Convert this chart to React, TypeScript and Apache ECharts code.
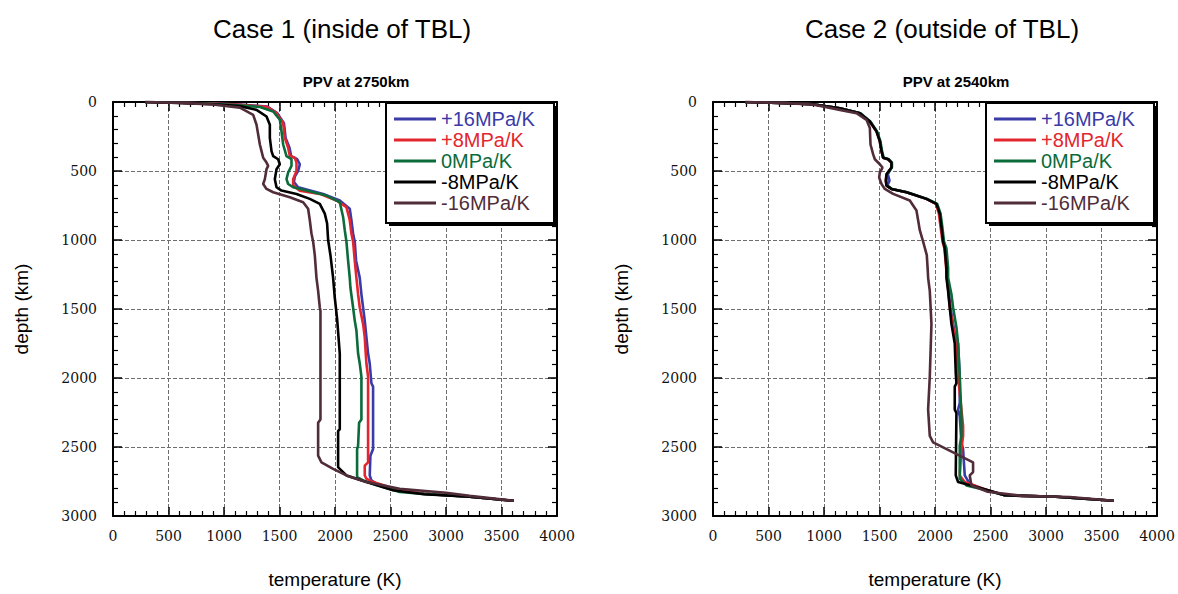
import React, { useEffect, useRef } from "react";
import * as echarts from "echarts";

// ---- data: [temperature (K), depth (km)] ----
const seriesNames = ["+16MPa/K", "+8MPa/K", "0MPa/K", "-8MPa/K", "-16MPa/K"];
const seriesColors = ["#3a3aa8", "#e3262e", "#0b6b3a", "#000000", "#512c39"];

const xTickLabels = ["0", "500", "1000", "1500", "2000", "2500", "3000", "3500", "4000"];
const yTickLabels = ["0", "500", "1000", "1500", "2000", "2500", "3000"];

const panelTitles = ["Case 1 (inside of TBL)", "Case 2 (outside of TBL)"];
const panelSubtitles = ["PPV at 2750km", "PPV at 2540km"];

// Case 1
const case1Plus16: [number, number][] = [
  [290, 0], [600, 5], [900, 12], [1150, 19], [1390, 33], [1480, 81], [1540, 153], [1555, 260],
  [1590, 332], [1605, 392], [1660, 415], [1683, 451], [1668, 499], [1638, 540], [1630, 580],
  [1668, 618], [1893, 666], [2043, 714], [2133, 774], [2148, 857], [2163, 953], [2178, 1012],
  [2190, 1150], [2223, 1274], [2238, 1393], [2253, 1489], [2268, 1584], [2283, 1704], [2298, 1823],
  [2313, 1895], [2328, 2038], [2343, 2062], [2343, 2515], [2319, 2563], [2313, 2706], [2328, 2742],
  [2373, 2766], [2583, 2814], [2800, 2838], [3213, 2860], [3609, 2890],
];
const case1Plus8: [number, number][] = [
  [290, 0], [600, 5], [900, 12], [1143, 20], [1383, 34], [1473, 81], [1533, 153], [1548, 260],
  [1578, 332], [1593, 392], [1638, 404], [1653, 439], [1653, 499], [1623, 559], [1623, 606],
  [1683, 642], [1863, 666], [2013, 714], [2103, 762], [2133, 857], [2148, 953], [2163, 1012],
  [2178, 1150], [2193, 1274], [2208, 1393], [2223, 1489], [2253, 1608], [2268, 1704], [2277, 1823],
  [2283, 1895], [2298, 1990], [2298, 2611], [2268, 2635], [2268, 2706], [2283, 2730], [2343, 2754],
  [2583, 2814], [2800, 2838], [3213, 2860], [3609, 2890],
];
const case1Zero: [number, number][] = [
  [290, 0], [600, 5], [900, 13], [1100, 22], [1323, 36], [1443, 69], [1503, 129], [1518, 213],
  [1533, 308], [1563, 392], [1608, 415], [1608, 463], [1578, 511], [1563, 559], [1578, 594],
  [1623, 618], [1743, 642], [1923, 678], [2043, 726], [2073, 833], [2088, 929], [2103, 1012],
  [2118, 1150], [2133, 1274], [2139, 1346], [2163, 1489], [2178, 1584], [2193, 1656], [2208, 1823],
  [2223, 1895], [2238, 1990], [2238, 2300], [2217, 2324], [2208, 2491], [2199, 2515], [2199, 2718],
  [2253, 2742], [2433, 2790], [2583, 2826], [2800, 2840], [3213, 2861], [3609, 2890],
];
const case1Minus8: [number, number][] = [
  [290, 0], [600, 6], [900, 16], [1143, 30], [1293, 57], [1383, 105], [1413, 165], [1413, 260],
  [1428, 356], [1443, 392], [1488, 415], [1503, 451], [1473, 487], [1458, 559], [1473, 618],
  [1518, 642], [1653, 666], [1773, 702], [1863, 738], [1908, 809], [1929, 881], [1938, 1000],
  [1959, 1110], [1983, 1274], [1998, 1417], [2019, 1572], [2043, 1823], [2043, 2372], [2028, 2384],
  [2028, 2646], [2043, 2658], [2103, 2706], [2283, 2754], [2523, 2814], [2800, 2842],
  [3213, 2861], [3609, 2890],
];
const case1Minus16: [number, number][] = [
  [290, 0], [600, 6], [900, 18], [1143, 41], [1263, 93], [1293, 165], [1308, 236], [1323, 308],
  [1338, 356], [1353, 404], [1383, 439], [1398, 463], [1383, 487], [1368, 559], [1353, 594],
  [1383, 630], [1443, 654], [1593, 690], [1713, 726], [1758, 774], [1773, 857], [1788, 953],
  [1803, 1012], [1818, 1110], [1833, 1274], [1848, 1369], [1863, 1489], [1869, 1513], [1869, 2300],
  [1848, 2324], [1848, 2563], [1878, 2611], [1983, 2658], [2103, 2706], [2283, 2754],
  [2583, 2802], [3000, 2832], [3213, 2854], [3609, 2890],
];

// Case 2
const case2Plus16: [number, number][] = [
  [290, 0], [600, 6], [900, 16], [1143, 45], [1323, 81], [1413, 141], [1473, 213], [1503, 284],
  [1518, 356], [1533, 404], [1578, 415], [1608, 439], [1608, 475], [1575, 523], [1590, 570],
  [1570, 606], [1608, 630], [1743, 654], [1923, 702], [2013, 738], [2043, 809], [2058, 905],
  [2078, 1012], [2090, 1060], [2105, 1200], [2109, 1274], [2139, 1489], [2178, 1680], [2208, 1751],
  [2223, 1990], [2223, 2181], [2208, 2229], [2223, 2277], [2238, 2467], [2253, 2515], [2268, 2706],
  [2313, 2766], [2463, 2814], [2628, 2850], [3087, 2861], [3609, 2890],
];
const case2Plus8: [number, number][] = [
  [290, 0], [600, 6], [900, 16], [1143, 45], [1323, 81], [1413, 141], [1473, 213], [1503, 284],
  [1518, 356], [1533, 404], [1578, 415], [1608, 439], [1608, 475], [1563, 523], [1557, 571],
  [1563, 606], [1608, 630], [1743, 654], [1923, 702], [2008, 738], [2035, 809], [2050, 905],
  [2068, 1012], [2085, 1060], [2100, 1200], [2109, 1274], [2133, 1489], [2163, 1632], [2193, 1751],
  [2208, 1990], [2238, 2229], [2253, 2348], [2253, 2420], [2238, 2515], [2223, 2706], [2268, 2754],
  [2433, 2802], [2628, 2850], [3087, 2861], [3609, 2890],
];
const case2Zero: [number, number][] = [
  [290, 0], [600, 6], [900, 16], [1143, 45], [1328, 81], [1418, 141], [1478, 213], [1508, 284],
  [1523, 356], [1538, 404], [1583, 415], [1612, 439], [1612, 475], [1567, 523], [1561, 571],
  [1567, 606], [1612, 630], [1748, 654], [1928, 702], [2020, 738], [2050, 809], [2066, 905],
  [2081, 1012], [2103, 1060], [2118, 1203], [2118, 1274], [2148, 1393], [2163, 1489], [2193, 1632],
  [2208, 1751], [2223, 1990], [2238, 2277], [2238, 2420], [2223, 2491], [2223, 2730], [2283, 2778],
  [2463, 2814], [2628, 2850], [3087, 2861], [3609, 2890],
];
const case2Minus8: [number, number][] = [
  [290, 0], [600, 6], [900, 16], [1143, 45], [1323, 81], [1413, 141], [1473, 213], [1503, 284],
  [1518, 356], [1533, 404], [1578, 415], [1608, 439], [1608, 475], [1563, 523], [1557, 571],
  [1563, 606], [1608, 630], [1743, 654], [1923, 702], [2013, 738], [2043, 809], [2058, 905],
  [2073, 1012], [2088, 1060], [2103, 1203], [2103, 1274], [2118, 1369], [2133, 1489], [2148, 1608],
  [2178, 1751], [2187, 1966], [2193, 2038], [2178, 2062], [2178, 2229], [2193, 2253], [2187, 2706],
  [2208, 2754], [2433, 2802], [2628, 2850], [3087, 2861], [3609, 2890],
];
const case2Minus16: [number, number][] = [
  [290, 0], [600, 6], [900, 18], [1143, 57], [1293, 81], [1383, 129], [1413, 189], [1419, 308],
  [1443, 380], [1458, 415], [1503, 451], [1527, 475], [1503, 511], [1497, 547], [1518, 594],
  [1548, 630], [1623, 666], [1773, 714], [1833, 786], [1848, 857], [1863, 929], [1893, 1012],
  [1926, 1110], [1935, 1224], [1938, 1274], [1953, 1369], [1968, 1608], [1953, 1990], [1938, 2229],
  [1953, 2420], [1983, 2467], [2163, 2539], [2343, 2611], [2343, 2682], [2313, 2706], [2328, 2778],
  [2475, 2824], [2781, 2854], [3213, 2862], [3609, 2890],
];

const case1Data = [case1Plus16, case1Plus8, case1Zero, case1Minus8, case1Minus16];
const case2Data = [case2Plus16, case2Plus8, case2Zero, case2Minus8, case2Minus16];

// ---- layout ----
const GRID_LEFTS = [113, 713];
const GRID_TOP = 102;
const GRID_W = 444;
const GRID_H = 419;

const SANS = "Liberation Sans";
const SERIF = "DejaVu Serif";

function xAxisFor(gridIndex: number, position: "top" | "bottom") {
  const bottom = position === "bottom";
  return {
    type: "value",
    gridIndex,
    position,
    min: 0,
    max: 4000,
    interval: 500,
    name: bottom ? "temperature (K)" : "",
    nameLocation: "middle",
    nameGap: 54,
    nameTextStyle: { fontSize: 19, fontFamily: SANS, color: "#000" },
    axisLine: { show: true, onZero: false, lineStyle: { color: "#000", width: 2 } },
    axisTick: { show: true, inside: true, length: 9, lineStyle: { color: "#000", width: 1.5 } },
    minorTick: { show: true, splitNumber: 5, length: 5, lineStyle: { color: "#000", width: 1.2 } },
    splitLine: bottom
      ? { show: true, lineStyle: { color: "#6e6e6e", width: 1, type: [4, 2] } }
      : { show: false },
    axisLabel: {
      show: bottom,
      margin: 13,
      fontSize: 14,
      fontFamily: SERIF,
      color: "#111",
      formatter: (v: number) => xTickLabels[Math.round(v / 500)] ?? String(v),
    },
  };
}

function yAxisFor(gridIndex: number, position: "left" | "right") {
  const left = position === "left";
  return {
    type: "value",
    gridIndex,
    position,
    inverse: true,
    min: 0,
    max: 3000,
    interval: 500,
    name: left ? "depth (km)" : "",
    nameLocation: "middle",
    nameRotate: 90,
    nameGap: 82,
    nameTextStyle: { fontSize: 19, fontFamily: SANS, color: "#000" },
    axisLine: { show: true, onZero: false, lineStyle: { color: "#000", width: 2 } },
    axisTick: { show: true, inside: true, length: 9, lineStyle: { color: "#000", width: 1.5 } },
    minorTick: { show: true, splitNumber: 5, length: 5, lineStyle: { color: "#000", width: 1.2 } },
    splitLine: left
      ? { show: true, lineStyle: { color: "#6e6e6e", width: 1, type: [4, 2] } }
      : { show: false },
    axisLabel: {
      show: left,
      margin: 16,
      fontSize: 14,
      fontFamily: SERIF,
      color: "#111",
      formatter: (v: number) => yTickLabels[Math.round(v / 500)] ?? String(v),
    },
  };
}

export default function App() {
  const ref = useRef<HTMLDivElement>(null);

  useEffect(() => {
    if (!ref.current) return;
    const chart = echarts.init(ref.current, null, { renderer: "svg" });

    const grids = GRID_LEFTS.map((l) => ({
      left: l,
      top: GRID_TOP,
      width: GRID_W,
      height: GRID_H,
      containLabel: false,
    }));

    const xAxes: any[] = [];
    const yAxes: any[] = [];
    [0, 1].forEach((g) => {
      xAxes.push(xAxisFor(g, "bottom"));
      xAxes.push(xAxisFor(g, "top"));
      yAxes.push(yAxisFor(g, "left"));
      yAxes.push(yAxisFor(g, "right"));
    });

    const series: any[] = [];
    [case1Data, case2Data].forEach((set, g) => {
      set.forEach((pts, i) => {
        series.push({
          type: "line",
          name: seriesNames[i],
          xAxisIndex: g * 2,
          yAxisIndex: g * 2,
          data: pts,
          symbol: "none",
          color: seriesColors[i],
          lineStyle: { color: seriesColors[i], width: 2.6 },
          z: 2 + i * 0.1,
        });
      });
    });

    const titles: any[] = [];
    panelTitles.forEach((t, g) => {
      titles.push({
        text: t,
        left: GRID_LEFTS[g] + 224,
        top: 11,
        textAlign: "center",
        textStyle: { fontSize: 26, fontWeight: "normal", fontFamily: SANS, color: "#000" },
      });
      titles.push({
        text: panelSubtitles[g],
        left: GRID_LEFTS[g] + 238,
        top: 69,
        textAlign: "center",
        textStyle: { fontSize: 15, fontWeight: "bold", fontFamily: SANS, color: "#000" },
      });
    });

    const legends: any[] = GRID_LEFTS.map((l) => ({
      orient: "vertical",
      left: l + 281,
      top: 109,
      padding: 0,
      itemGap: 1,
      itemWidth: 42,
      itemHeight: 3,
      icon: "rect",
      z: 10,
      textStyle: { fontSize: 20, fontFamily: SANS, lineHeight: 20 },
      data: seriesNames.map((n, i) => ({ name: n, textStyle: { color: seriesColors[i] } })),
      selectedMode: false,
    }));

    const graphic: any[] = [];
    GRID_LEFTS.forEach((l) => {
      graphic.push({
        type: "rect",
        z: 8,
        shape: { x: l + 276, y: 106, width: 168, height: 120 },
        style: { fill: "#000" },
      });
      graphic.push({
        type: "rect",
        z: 9,
        shape: { x: l + 273, y: 103, width: 168, height: 120 },
        style: { fill: "#fff", stroke: "#000", lineWidth: 2 },
      });
    });

    chart.setOption({
      animation: false,
      backgroundColor: "#fff",
      title: titles,
      grid: grids,
      xAxis: xAxes,
      yAxis: yAxes,
      legend: legends,
      graphic,
      series,
    });

    return () => chart.dispose();
  }, []);

  return (
    <div
      ref={ref}
      style={{ position: "fixed", left: 0, top: 0, width: 1178, height: 594, background: "#fff" }}
    />
  );
}
